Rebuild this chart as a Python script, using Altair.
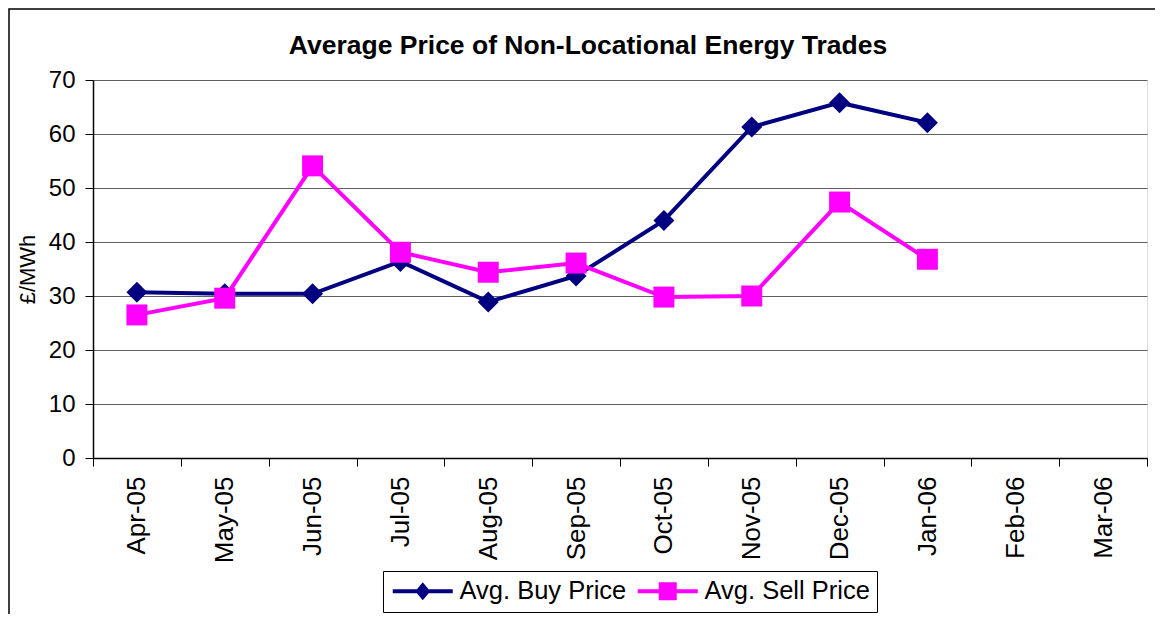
import altair as alt
import pandas as pd

months = ["Apr-05", "May-05", "Jun-05", "Jul-05", "Aug-05", "Sep-05",
          "Oct-05", "Nov-05", "Dec-05", "Jan-06", "Feb-06", "Mar-06"]
buy_months = months[:10]
buy_price = [30.7, 30.4, 30.4, 36.4, 28.9, 33.7, 44.0, 61.3, 65.8, 62.1]
sell_price = [26.5, 29.6, 54.1, 38.1, 34.4, 36.1, 29.8, 30.0, 47.4, 36.8]
series = ["Avg. Buy Price", "Avg. Sell Price"]
colors = ["#000080", "#FF00FF"]

rows = []
for m, v in zip(buy_months, buy_price):
    rows.append({"month": m, "price": v, "series": series[0]})
for m, v in zip(buy_months, sell_price):
    rows.append({"month": m, "price": v, "series": series[1]})
df = pd.DataFrame(rows)

FONT = "Liberation Sans"

x_enc = alt.X("month:N", sort=months,
              scale=alt.Scale(domain=months, type="band", paddingInner=0, paddingOuter=0),
              axis=alt.Axis(title=None, labelAngle=-90, labelFontSize=26, labelFont=FONT,
                            labelColor="black", labelPadding=10, tickBand="extent",
                            tickSize=8, tickColor="black", domainColor="black",
                            domainWidth=1.5, grid=False, labelAlign="right",
                            labelBaseline="middle"))
y_enc = alt.Y("price:Q",
              scale=alt.Scale(domain=[0, 70], nice=False),
              axis=alt.Axis(title="£/MWh", values=list(range(0, 71, 10)),
                            labelFontSize=24, labelFont=FONT, labelColor="black",
                            labelPadding=10, tickSize=8, tickColor="black",
                            domainColor="black", domainWidth=1.5,
                            grid=True, gridColor="#606060", gridWidth=1,
                            titleFont=FONT, titleFontSize=22, titleFontWeight="normal",
                            titleColor="black", titleAngle=-90, titleX=-66, titleY=189,
                            titleAlign="center", titleBaseline="middle"))

color_plain = alt.Color("series:N", scale=alt.Scale(domain=series, range=colors), legend=None)

base = alt.Chart(df)

lines = base.mark_line(strokeWidth=4).encode(x=x_enc, y=y_enc, color=color_plain)

points = base.mark_point(filled=True, opacity=1, strokeWidth=0).encode(
    x=x_enc, y=y_enc, color=color_plain,
    shape=alt.Shape("series:N", scale=alt.Scale(domain=series, range=["diamond", "square"]), legend=None),
    size=alt.value(440),
)

diamond_leg = "M-1,-0.2H5V0.2H-1Z M2,-0.9L2.75,0L2,0.9L1.25,0Z"
square_leg = "M-1,-0.2H5V0.2H-1Z M1.1,-0.9H2.9V0.9H1.1Z"

legend_layer = base.transform_filter("false").mark_point(filled=True, opacity=1, strokeWidth=0).encode(
    x=x_enc, y=y_enc,
    color=alt.Color("series:N", scale=alt.Scale(domain=series, range=colors),
                    legend=alt.Legend(title=None, orient="none", legendX=290, legendY=491,
                                      direction="horizontal", labelFont=FONT, labelFontSize=25.5,
                                      labelColor="black", labelLimit=400, symbolSize=400,
                                      labelOffset=44, columnPadding=8, padding=7,
                                      strokeColor="black", fillColor="white",
                                      symbolStrokeWidth=0, symbolOpacity=1)),
    shape=alt.Shape("series:N", scale=alt.Scale(domain=series, range=[diamond_leg, square_leg])),
)

frame = alt.Chart(alt.Data(values=[{}])).mark_rect(
    fill=None, stroke="black", strokeWidth=1.5, clip=False
).encode(x=alt.value(-84), x2=alt.value(1300), y=alt.value(-71), y2=alt.value(800))

chart = alt.layer(frame, lines, points, legend_layer).resolve_scale(
    shape="independent", color="independent"
).properties(
    width=1054, height=378,
    autosize=alt.AutoSizeParams(type="none"),
    padding={"left": 85, "top": 72, "right": 8, "bottom": 156},
    title=alt.TitleParams("Average Price of Non-Locational Energy Trades", font=FONT,
                          fontSize=26.5, fontWeight="bold", color="black",
                          anchor="middle", dx=-32, dy=73, offset=22),
).configure_view(stroke="#888888", strokeWidth=2).configure(background="white")

chart.save("out.html", embed_options={"renderer": "svg", "actions": False})
